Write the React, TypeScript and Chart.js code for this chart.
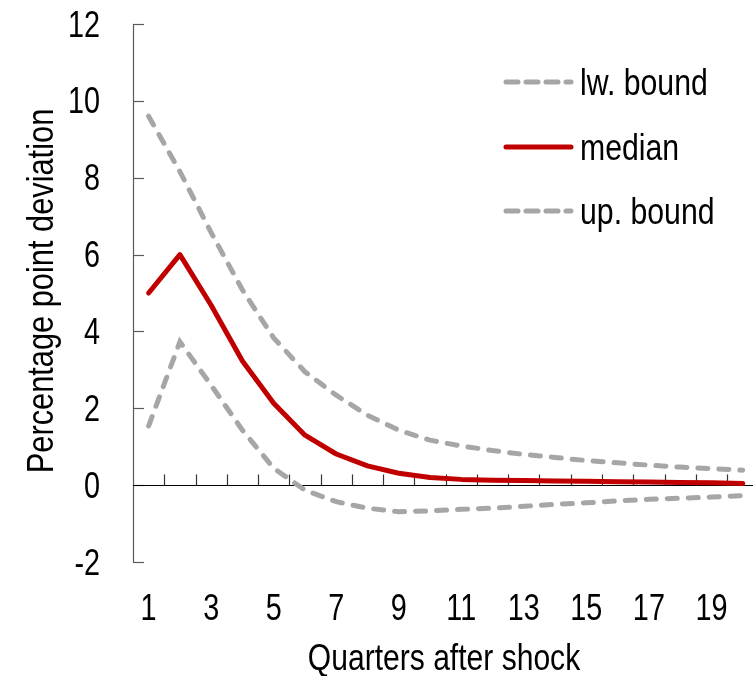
import { useEffect, useRef } from "react";
import { Chart, registerables } from "chart.js";

Chart.register(...registerables);

const quarters = [1, 2, 3, 4, 5, 6, 7, 8, 9, 10, 11, 12, 13, 14, 15, 16, 17, 18, 19, 20];
const lwBound = [9.6, 8.16, 6.57, 5.08, 3.83, 2.95, 2.34, 1.82, 1.43, 1.17, 1.02, 0.9, 0.8, 0.72, 0.64, 0.58, 0.52, 0.47, 0.43, 0.39];
const median = [5.0, 6.0, 4.68, 3.23, 2.13, 1.3, 0.81, 0.5, 0.31, 0.2, 0.15, 0.13, 0.12, 0.11, 0.1, 0.09, 0.08, 0.07, 0.06, 0.04];
const upBound = [1.54, 3.73, 2.6, 1.43, 0.44, -0.13, -0.43, -0.6, -0.69, -0.67, -0.63, -0.6, -0.55, -0.5, -0.46, -0.41, -0.37, -0.34, -0.31, -0.27];
const seriesLabels = ["lw. bound", "median", "up. bound"];
const xTickLabels = [1, 3, 5, 7, 9, 11, 13, 15, 17, 19];
const yTickLabels = [-2, 0, 2, 4, 6, 8, 10, 12];
const xTitle = "Quarters after shock";
const yTitle = "Percentage point deviation";

const FONT = '"Liberation Sans", Arial, sans-serif';
const GREY = "#A6A6A6";
const RED = "#C00000";

function narrowText(
  ctx: CanvasRenderingContext2D,
  text: string,
  x: number,
  y: number,
  align: CanvasTextAlign,
  size: number,
  sx: number,
  rotate = false
) {
  ctx.save();
  ctx.translate(x, y);
  if (rotate) ctx.rotate(-Math.PI / 2);
  ctx.scale(sx, 1);
  ctx.font = `${size}px ${FONT}`;
  ctx.fillStyle = "#000000";
  ctx.textAlign = align;
  ctx.textBaseline = "alphabetic";
  ctx.fillText(text, 0, 0);
  ctx.restore();
}

const axesPlugin = {
  id: "axesPlugin",
  beforeDatasetsDraw(chart: any) {
    const { ctx, chartArea, scales } = chart;
    const x = scales.x;
    const y = scales.y;
    ctx.save();
    // y axis line
    ctx.strokeStyle = "#5a5a5a";
    ctx.lineWidth = 1.2;
    ctx.beginPath();
    ctx.moveTo(chartArea.left + 0.5, y.getPixelForValue(yTickLabels[yTickLabels.length - 1]));
    ctx.lineTo(chartArea.left + 0.5, y.getPixelForValue(yTickLabels[0]));
    ctx.stroke();
    // y tick marks (inward)
    yTickLabels.forEach((v) => {
      const py = Math.round(y.getPixelForValue(v)) + 0.5;
      ctx.beginPath();
      ctx.moveTo(chartArea.left, py);
      ctx.lineTo(chartArea.left + 11, py);
      ctx.stroke();
    });
    // zero line
    const zy = Math.round(y.getPixelForValue(0)) + 0.5;
    ctx.strokeStyle = "#000000";
    ctx.lineWidth = 1.2;
    ctx.beginPath();
    ctx.moveTo(chartArea.left, zy);
    ctx.lineTo(chartArea.right, zy);
    ctx.stroke();
    // category boundary tick marks on zero line
    ctx.strokeStyle = "#333333";
    quarters.forEach((q) => {
      const px = Math.round(x.getPixelForValue(q + 0.5)) + 0.5;
      if (px > chartArea.right) return;
      ctx.beginPath();
      ctx.moveTo(px, zy);
      ctx.lineTo(px, zy - 11);
      ctx.stroke();
    });
    ctx.restore();
  },
  afterDraw(chart: any) {
    const { ctx, chartArea, scales } = chart;
    const x = scales.x;
    const y = scales.y;
    // tick labels
    yTickLabels.forEach((v) => {
      narrowText(ctx, String(v), 100, y.getPixelForValue(v) + 12.5, "right", 36, 0.8);
    });
    xTickLabels.forEach((v) => {
      narrowText(ctx, String(v), x.getPixelForValue(v), 620, "center", 36, 0.8);
    });
    // axis titles
    narrowText(ctx, xTitle, (chartArea.left + chartArea.right) / 2 + 1, 670, "center", 36, 0.835);
    narrowText(ctx, yTitle, 53, (y.getPixelForValue(12) + y.getPixelForValue(-2)) / 2 - 2, "center", 36, 0.855, true);
    // legend
    const rows = [82, 147, 211];
    ctx.save();
    chart.data.datasets.forEach((ds: any, i: number) => {
      const yy = rows[i];
      ctx.strokeStyle = ds.borderColor;
      ctx.lineWidth = ds.borderWidth;
      ctx.lineCap = "round";
      ctx.setLineDash(ds.borderDash && ds.borderDash.length ? [12, 8] : []);
      ctx.beginPath();
      ctx.moveTo(506, yy);
      ctx.lineTo(571, yy);
      ctx.stroke();
      ctx.setLineDash([]);
      narrowText(ctx, ds.label, 580, yy + 13, "left", 36, 0.84);
    });
    ctx.restore();
  },
};

export default function App() {
  const ref = useRef<HTMLCanvasElement | null>(null);
  useEffect(() => {
    if (!ref.current) return;
    const mk = (vals: number[]) => quarters.map((q, i) => ({ x: q, y: vals[i] }));
    const chart = new Chart(ref.current, {
      type: "line",
      data: {
        datasets: [
          {
            label: seriesLabels[0],
            data: mk(lwBound),
            borderColor: GREY,
            borderWidth: 5,
            borderDash: [10, 11],
            borderCapStyle: "round",
            pointRadius: 0,
            tension: 0,
          },
          {
            label: seriesLabels[1],
            data: mk(median),
            borderColor: RED,
            borderWidth: 5,
            borderCapStyle: "round",
            borderJoinStyle: "round",
            pointRadius: 0,
            tension: 0,
          },
          {
            label: seriesLabels[2],
            data: mk(upBound),
            borderColor: GREY,
            borderWidth: 5,
            borderDash: [10, 11],
            borderCapStyle: "round",
            pointRadius: 0,
            tension: 0,
          },
        ],
      },
      options: {
        animation: false,
        responsive: false,
        maintainAspectRatio: false,
        layout: { padding: { top: 24, right: 0, left: 0, bottom: 0 } },
        plugins: { legend: { display: false }, tooltip: { enabled: false } },
        scales: {
          x: {
            type: "linear",
            min: 0.5,
            max: 20.33,
            grid: { display: false, drawTicks: false },
            border: { display: false },
            afterBuildTicks: (scale: any) => {
              scale.ticks = xTickLabels.map((v) => ({ value: v }));
            },
            afterFit: (scale: any) => {
              scale.height = 114;
            },
            ticks: { display: false },
            title: { display: false },
          },
          y: {
            min: -2,
            max: 12,
            afterBuildTicks: (scale: any) => {
              scale.ticks = yTickLabels.map((v) => ({ value: v }));
            },
            afterFit: (scale: any) => {
              scale.width = 133;
            },
            grid: { display: false, drawTicks: false },
            border: { display: false },
            ticks: { display: false },
            title: { display: false },
          },
        },
      },
      plugins: [axesPlugin],
    } as any);
    return () => chart.destroy();
  }, []);
  return (
    <div style={{ position: "fixed", left: 0, top: 0, width: 753, height: 676, background: "#fff" }}>
      <canvas ref={ref} width={753} height={676} style={{ width: 753, height: 676 }} />
    </div>
  );
}
